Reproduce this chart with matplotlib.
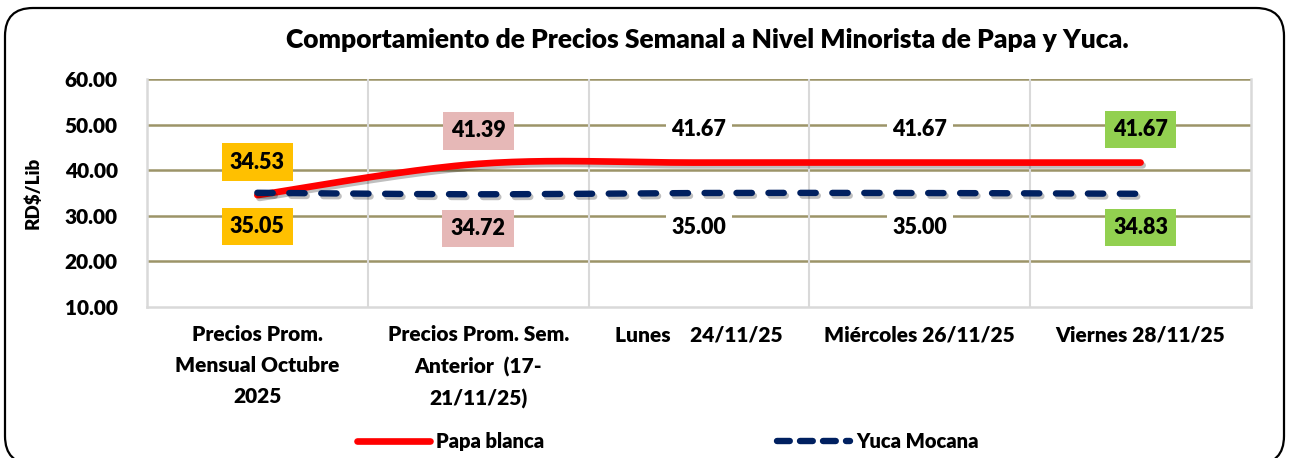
import numpy as np
import matplotlib
matplotlib.use("Agg")
import matplotlib.pyplot as plt
from matplotlib.patches import FancyBboxPatch
from matplotlib.lines import Line2D
import matplotlib.patheffects as pe

plt.rcParams['font.family'] = ['Lato', 'DejaVu Sans']

categories = ["Precios Prom.\nMensual Octubre\n2025",
              "Precios Prom. Sem.\nAnterior  (17-\n21/11/25)",
              "Lunes    24/11/25",
              "Miércoles 26/11/25",
              "Viernes 28/11/25"]
papa = [34.53, 41.39, 41.67, 41.67, 41.67]
yuca = [35.05, 34.72, 35.00, 35.00, 34.83]
box_colors = ["#FFC000", "#E6B8B7", None, None, "#92D050"]

W = "heavy"


def smooth(y, n=40):
    # bezier smoothing like the spreadsheet "smoothed line"
    y = np.asarray(y, dtype=float)
    x = np.arange(len(y), dtype=float)
    xs, ys = [], []
    for i in range(len(y) - 1):
        p0 = np.array([x[i], y[i]])
        p3 = np.array([x[i + 1], y[i + 1]])
        pm = np.array([x[max(i - 1, 0)], y[max(i - 1, 0)]])
        pp = np.array([x[min(i + 2, len(y) - 1)], y[min(i + 2, len(y) - 1)]])
        p1 = p0 + (p3 - pm) / 6
        p2 = p3 - (pp - p0) / 6
        t = np.linspace(0, 1, n)[:, None]
        pts = (1 - t) ** 3 * p0 + 3 * (1 - t) ** 2 * t * p1 + 3 * (1 - t) * t ** 2 * p2 + t ** 3 * p3
        xs.extend(pts[:, 0]); ys.extend(pts[:, 1])
    return np.array(xs), np.array(ys)


fig = plt.figure(figsize=(12.89, 4.58), dpi=100)
ax = fig.add_axes([0.114, 0.3297, 0.8565, 0.4978])

# rounded frame of the chart
frame = FancyBboxPatch((0.05, -0.06), 12.79, 4.56,
                       boxstyle="round,pad=0,rounding_size=0.28",
                       transform=fig.dpi_scale_trans, fill=False,
                       edgecolor="black", linewidth=1.6, zorder=0)
fig.patches.append(frame)

ax.set_xlim(-0.5, len(categories) - 0.5)
ax.set_ylim(10, 60)
ax.set_yticks(np.arange(10, 61, 10))
ax.set_yticklabels([f"{v:.2f}" for v in np.arange(10, 61, 10)],
                   fontsize=15, fontweight=W)
ax.set_xticks(range(len(categories)))
ax.set_xticklabels(categories, fontsize=15, fontweight=W, linespacing=1.75)
ax.tick_params(length=0)
ax.tick_params(axis="x", pad=13)
ax.tick_params(axis="y", pad=21)

for v in np.arange(20, 61, 10):
    ax.axhline(v, color="#9C9468", linewidth=1.8, zorder=1)
for xv in np.arange(0.5, len(categories) - 0.5, 1):
    ax.axvline(xv, color="#D9D9D9", linewidth=1.5, zorder=1)
for s in ["left", "right", "bottom"]:
    ax.spines[s].set_color("#D9D9D9")
    ax.spines[s].set_linewidth(1.8)
ax.spines["top"].set_visible(False)

xs, ys = smooth(papa)
ax.plot(xs, ys, color="#FF0000", linewidth=4.8, solid_capstyle="round", zorder=4,
        path_effects=[pe.SimpleLineShadow(offset=(1.5, -2), alpha=0.25), pe.Normal()])
xs, ys = smooth(yuca)
ax.plot(xs, ys, color="#002060", linewidth=4.6, dash_capstyle="round",
        dashes=(2.4, 2.6), zorder=5,
        path_effects=[pe.SimpleLineShadow(offset=(1.5, -2), alpha=0.25), pe.Normal()])

for i, (p, y, c) in enumerate(zip(papa, yuca, box_colors)):
    bb = dict(boxstyle="square,pad=0.38", facecolor=c, edgecolor="none") if c else \
        dict(boxstyle="square,pad=0.25", facecolor="white", edgecolor="none")
    ax.annotate(f"{p:.2f}", (i, p), xytext=(0, 33), textcoords="offset pixels",
                ha="center", va="center", fontsize=15.5, fontweight=W,
                bbox=bb, zorder=6)
    ax.annotate(f"{y:.2f}", (i, y), xytext=(0, -34), textcoords="offset pixels",
                ha="center", va="center", fontsize=15.5, fontweight=W,
                bbox=bb, zorder=6)

ax.set_ylabel("RD$/Lib", fontsize=13.5, fontweight=W)
ax.yaxis.set_label_coords(-0.095, 0.5)

fig.text(0.549, 0.913, "Comportamiento de Precios Semanal a Nivel Minorista de Papa y Yuca.",
         ha="center", va="center", fontsize=19, fontweight=W)

handles = [Line2D([], [], color="#FF0000", linewidth=4.8, solid_capstyle="round"),
           Line2D([], [], color="#002060", linewidth=4.6, dash_capstyle="round", dashes=(2.0, 1.6))]
leg = fig.legend(handles, ["Papa blanca", "Yuca Mocana"], loc="center",
                 bbox_to_anchor=(0.518, 0.037), ncol=2, frameon=False,
                 prop=dict(size=14.5, weight=W), handlelength=3.6,
                 handletextpad=0.3, columnspacing=11.6)

fig.savefig("out.png", dpi=100)
